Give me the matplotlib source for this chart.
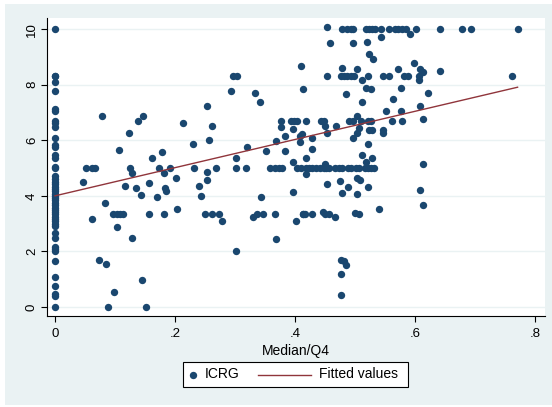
import numpy as np
import matplotlib.pyplot as plt
from matplotlib.lines import Line2D
from matplotlib.patches import Rectangle

plt.rcParams['font.family'] = ['Liberation Sans', 'DejaVu Sans']

navy = '#1A476F'
maroon = '#90353B'
bluishgray = '#EAF2F3'

# countries with Median/Q4 == 0
icrg_at_zero = [10.0, 8.33, 8.33, 8.08, 7.78, 7.13, 7.06, 6.69, 6.63, 6.46,
                6.09, 5.83, 5.77, 5.47, 5.35, 5.05, 4.99, 4.70, 4.60, 4.50,
                4.42, 4.33, 4.25, 4.17, 4.08, 4.00, 3.92, 3.85, 3.75, 3.67,
                3.58, 3.50, 3.42, 3.33, 3.25, 3.17, 3.08, 3.00, 2.92, 2.65,
                2.50, 2.17, 2.08, 2.00, 1.67, 1.08, 0.77, 0.46, 0.38, 0.00]

median_q4 = [
    0.047, 0.051, 0.062, 0.067, 0.079, 0.062, 0.084, 0.073, 0.085, 0.089,
    0.099, 0.097, 0.103, 0.108, 0.114, 0.103, 0.106, 0.117, 0.124, 0.125,
    0.128, 0.138, 0.147, 0.128, 0.135, 0.143, 0.145, 0.152, 0.157, 0.156,
    0.161, 0.170, 0.173, 0.179, 0.181, 0.183, 0.185, 0.181, 0.191, 0.201,
    0.203,
    0.214, 0.230, 0.232, 0.240, 0.243, 0.253, 0.256, 0.261, 0.253, 0.253,
    0.269, 0.250, 0.261, 0.273, 0.279, 0.293, 0.296, 0.304, 0.301, 0.301,
    0.301, 0.320, 0.318, 0.334, 0.341, 0.343, 0.330, 0.336, 0.347, 0.351,
    0.359, 0.366, 0.373, 0.379, 0.366, 0.368, 0.369, 0.377, 0.377, 0.384,
    0.384, 0.393, 0.399, 0.403, 0.396, 0.397, 0.396, 0.402, 0.408, 0.412,
    0.408, 0.410, 0.413, 0.413,
    0.454, 0.479, 0.486, 0.493, 0.497, 0.518, 0.523, 0.528, 0.533, 0.544,
    0.557, 0.567, 0.572, 0.578, 0.585, 0.592, 0.601, 0.641, 0.678, 0.693,
    0.771,
    0.459, 0.497, 0.520, 0.544, 0.524, 0.530, 0.479, 0.503, 0.511, 0.453,
    0.476, 0.481, 0.487, 0.493, 0.498, 0.521, 0.547, 0.556, 0.571, 0.582,
    0.589, 0.599, 0.606, 0.607, 0.608, 0.613, 0.642, 0.761,
    0.519, 0.526, 0.485, 0.511, 0.563, 0.576, 0.552, 0.576, 0.608, 0.614,
    0.622,
    0.419, 0.444, 0.448, 0.450, 0.469, 0.490, 0.497, 0.504, 0.510, 0.522,
    0.527, 0.561, 0.579, 0.429, 0.453, 0.497, 0.504, 0.507, 0.524, 0.529,
    0.547, 0.547,
    0.429, 0.522, 0.419, 0.511, 0.518, 0.528, 0.450, 0.419, 0.614,
    0.404, 0.410, 0.418, 0.424, 0.429, 0.435, 0.441, 0.449, 0.452, 0.457,
    0.466, 0.474, 0.479, 0.488, 0.493, 0.502, 0.507, 0.516, 0.521, 0.527,
    0.532,
    0.453, 0.475, 0.489, 0.504, 0.508, 0.521, 0.478, 0.503, 0.608, 0.613,
    0.540, 0.414, 0.429, 0.446, 0.450, 0.457, 0.467, 0.500, 0.507, 0.417,
    0.476, 0.482, 0.485, 0.477, 0.477,
]

icrg = [
    4.51, 5.00, 5.00, 5.00, 6.87, 3.17, 3.74, 1.70, 1.56, 0.00,
    0.53, 3.33, 3.33, 3.33, 3.33, 2.87, 5.64, 4.34, 6.25, 5.00,
    4.84, 6.68, 6.87, 2.47, 4.27, 4.04, 0.98, 0.00, 4.45, 3.33,
    5.36, 3.96, 5.00, 5.59, 4.84, 4.27, 4.17, 3.33, 5.00, 4.65,
    3.51,
    6.62, 5.88, 5.00, 4.34, 3.99, 7.25, 6.02, 6.52, 4.87, 4.57,
    5.00, 3.33, 3.33, 3.33, 3.08, 7.78, 8.33, 8.33, 5.35, 5.00,
    2.00, 5.76, 5.00, 7.69, 7.39, 3.96, 3.23, 3.33, 3.33, 5.62,
    5.00, 5.00, 5.00, 5.00, 3.33, 2.43, 5.98, 6.69, 6.49, 6.15,
    5.62, 6.69, 6.69, 6.69, 6.41, 5.23, 4.14, 3.09, 6.15, 6.21,
    5.94, 8.68, 7.84, 3.33,
    10.07, 10.0, 10.0, 10.0, 10.0, 10.0, 10.0, 10.0, 10.0, 10.0,
    10.0, 10.0, 10.0, 10.0, 10.0, 9.84, 10.0, 10.0, 10.0, 10.0,
    10.0,
    9.51, 9.51, 9.54, 9.72, 9.11, 8.91, 8.61, 8.55, 8.17, 8.33,
    8.33, 8.33, 8.33, 8.33, 8.33, 8.33, 8.33, 8.33, 8.55, 8.33,
    8.33, 8.79, 8.33, 8.17, 8.55, 8.45, 8.50, 8.33,
    7.89, 7.84, 7.65, 7.39, 7.47, 7.87, 7.07, 7.06, 7.25, 6.75,
    7.71,
    6.69, 6.69, 6.69, 6.51, 6.51, 6.69, 6.69, 6.87, 6.69, 6.69,
    6.69, 6.69, 6.69, 6.09, 6.25, 6.07, 6.25, 6.43, 6.37, 6.37,
    6.37, 6.25,
    5.68, 5.88, 5.36, 5.46, 5.23, 5.36, 5.13, 4.78, 5.14,
    5.00, 5.00, 5.00, 5.00, 5.00, 5.00, 5.00, 5.00, 5.00, 5.00,
    5.00, 5.00, 5.00, 5.00, 5.00, 5.00, 5.00, 5.00, 5.00, 5.00,
    5.00,
    4.41, 4.54, 4.33, 4.66, 4.57, 4.33, 4.09, 4.06, 4.21, 3.67,
    3.54, 3.33, 3.33, 3.43, 3.33, 3.33, 3.23, 3.37, 3.33, 3.33,
    1.69, 1.67, 1.51, 1.18, 0.43,
]

# linear fit of ICRG on Median/Q4
fit_intercept = 4.0
fit_slope = 5.07

x = np.concatenate([np.zeros(len(icrg_at_zero)), median_q4])
y = np.concatenate([icrg_at_zero, icrg])

W, H = 552, 407
fig = plt.figure(figsize=(W / 100, H / 100), dpi=100, facecolor='white')
fig.patches.append(Rectangle((5 / W, 2 / H), 547 / W, 401 / H, transform=fig.transFigure,
                             facecolor=bluishgray, edgecolor='none', zorder=-10))

ax = fig.add_axes([47 / W, 91 / H, 498 / W, 298 / H])
ax.set_facecolor('white')

ax.plot(x, y, 'o', ms=5.3, color=navy, mew=0, zorder=3)
xfit = np.array([x.min(), x.max()])
ax.plot(xfit, fit_intercept + fit_slope * xfit, color=maroon, lw=1.0, zorder=4)

ax.set_xlim(-0.0133, 0.8167)
ax.set_ylim(-0.324, 10.40)
ax.set_xticks([0, 0.2, 0.4, 0.6, 0.8])
ax.set_xticklabels(['0', '.2', '.4', '.6', '.8'])
ax.set_yticks(range(0, 11, 2))
ax.set_yticklabels([str(v) for v in range(0, 11, 2)], rotation=90, va='center')
ax.grid(axis='y', color=bluishgray, lw=1.0)
ax.set_axisbelow(True)

for side in ['top', 'right']:
    ax.spines[side].set_visible(False)
for side in ['left', 'bottom']:
    ax.spines[side].set_linewidth(0.8)
ax.tick_params(length=4.5, width=0.8, labelsize=9.5, colors='black')
ax.tick_params(axis='x', pad=4)
ax.tick_params(axis='y', pad=2)
ax.set_xlabel('Median/Q4', fontsize=10, labelpad=3)

# legend box below the plot
ly = 1 - 374.5 / H
fig.patches.append(Rectangle((183 / W, 1 - 387 / H), 225 / W, 25 / H, transform=fig.transFigure,
                             facecolor='white', edgecolor='black', lw=0.8))
fig.add_artist(Line2D([192.7 / W], [ly], marker='o', ms=5.3, color=navy, mew=0,
                      transform=fig.transFigure))
fig.text(205 / W, ly, 'ICRG', fontsize=10, va='center')
fig.add_artist(Line2D([258 / W, 311 / W], [ly, ly], color=maroon, lw=1.0,
                      transform=fig.transFigure))
fig.text(319 / W, ly, 'Fitted values', fontsize=10, va='center')

fig.savefig('out.png', dpi=100)
